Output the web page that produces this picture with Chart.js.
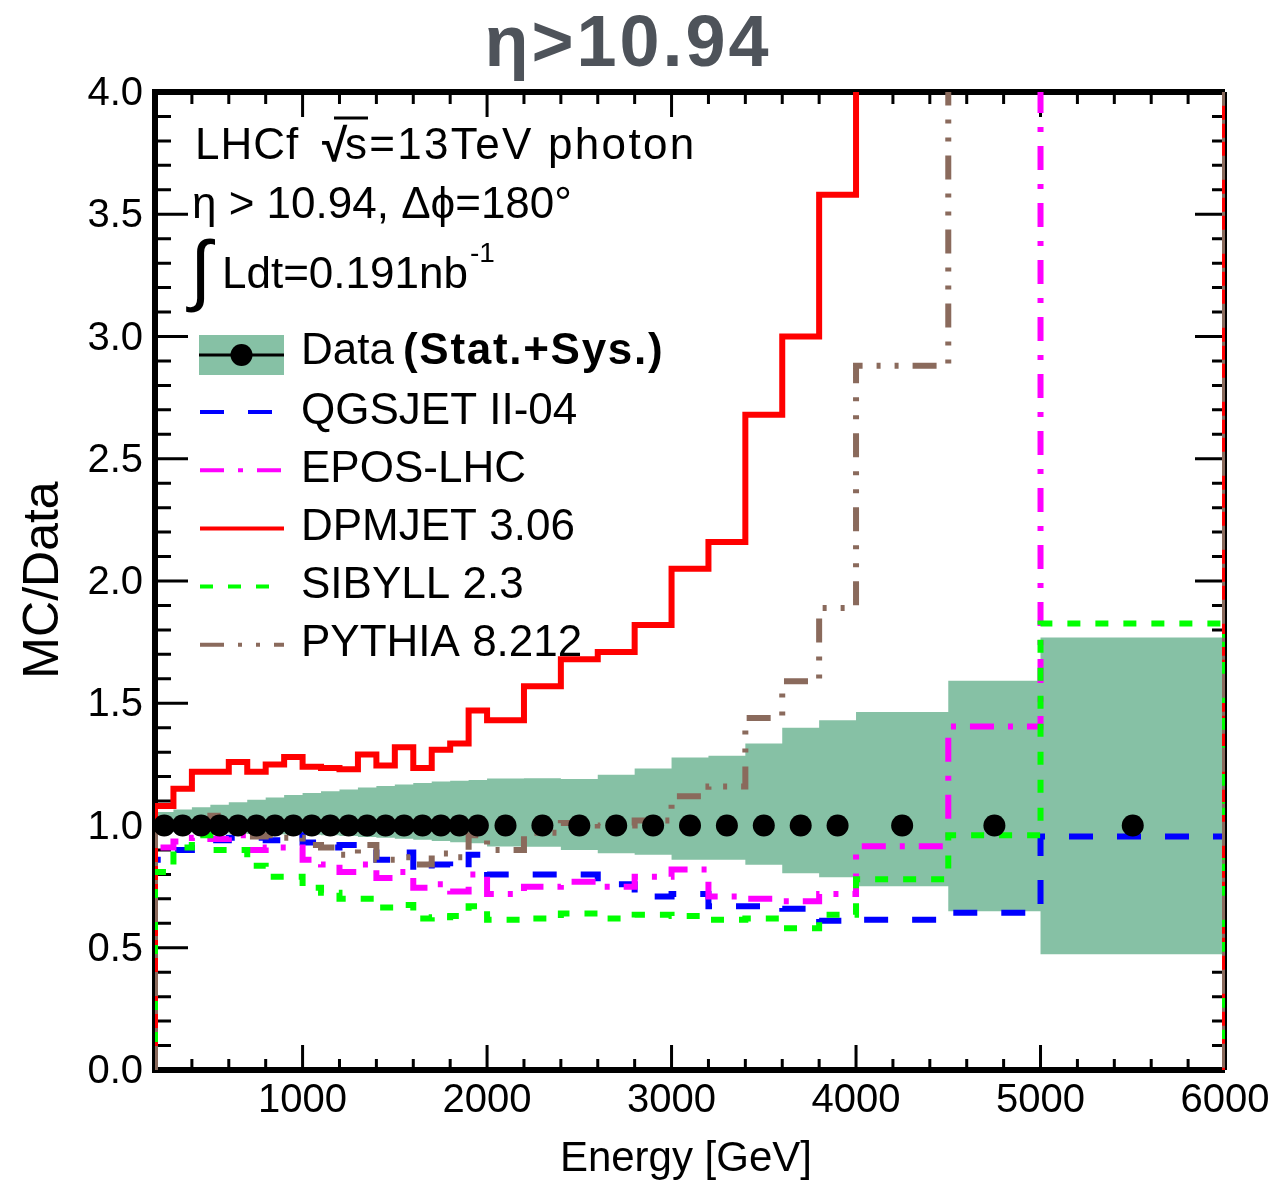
<!DOCTYPE html>
<html>
<head>
<meta charset="utf-8">
<title>MC/Data eta>10.94</title>
<script src="https://cdn.jsdelivr.net/npm/chart.js@4.4.0/dist/chart.umd.min.js"></script>
<style>
  body { margin: 0; background: #fff; }
</style>
</head>
<body>
<canvas id="ratio" width="1276" height="1180"></canvas>
<script>
// energy bins [GeV]
var binEdges = [200, 300, 400, 500, 600, 700, 800, 900, 1000, 1100, 1200, 1300, 1400, 1500, 1600, 1700, 1800, 1900, 2000,
                2200, 2400, 2600, 2800, 3000, 3200, 3400, 3600, 3800, 4000, 4500, 5000, 6000];

// data ratio (always 1) and its stat+sys band
var dataRatio = [1, 1, 1, 1, 1, 1, 1, 1, 1, 1, 1, 1, 1, 1, 1, 1, 1, 1, 1, 1, 1, 1, 1, 1, 1, 1, 1, 1, 1, 1, 1];
var bandHigh = [1.055, 1.065, 1.075, 1.085, 1.095, 1.105, 1.115, 1.125, 1.133, 1.14, 1.147, 1.155, 1.162, 1.168, 1.174, 1.18, 1.183, 1.186,
                1.192, 1.193, 1.19, 1.208, 1.233, 1.278, 1.285, 1.335, 1.40, 1.43, 1.464, 1.592, 1.769];
var bandLow = [0.975, 0.972, 0.97, 0.968, 0.966, 0.965, 0.964, 0.963, 0.962, 0.96, 0.957, 0.953, 0.95, 0.946, 0.942, 0.937, 0.932, 0.927,
               0.914, 0.913, 0.90, 0.887, 0.88, 0.86, 0.86, 0.839, 0.805, 0.788, 0.752, 0.649, 0.473];

// MC / Data for each model
var qgsjet = [0.86, 0.90, 0.92, 0.94, 0.95, 0.95, 0.94, 0.96, 0.93, 0.91, 0.92, 0.91, 0.86, 0.89, 0.81, 0.84, 0.82, 0.88,
              0.80, 0.80, 0.80, 0.76, 0.71, 0.72, 0.67, 0.67, 0.66, 0.61, 0.615, 0.643, 0.955];
var epos = [0.91, 0.935, 0.95, 0.945, 0.96, 0.90, 0.91, 0.91, 0.86, 0.84, 0.81, 0.84, 0.785, 0.81, 0.745, 0.76, 0.73, 0.80,
            0.72, 0.75, 0.77, 0.75, 0.79, 0.82, 0.71, 0.70, 0.69, 0.72, 0.915, 1.405, 8.0];
var dpmjet = [1.08, 1.15, 1.22, 1.22, 1.26, 1.22, 1.25, 1.28, 1.24, 1.235, 1.23, 1.29, 1.245, 1.32, 1.235, 1.31, 1.335, 1.47,
              1.43, 1.57, 1.68, 1.71, 1.82, 2.05, 2.16, 2.68, 3.00, 3.58, 5.2, 7.0, 9.0];
var sibyll = [0.81, 0.91, 0.96, 0.90, 0.90, 0.835, 0.79, 0.79, 0.745, 0.725, 0.70, 0.70, 0.665, 0.675, 0.62, 0.625, 0.63, 0.67,
              0.615, 0.62, 0.64, 0.62, 0.635, 0.63, 0.615, 0.62, 0.58, 0.635, 0.78, 0.96, 1.826];
var pythia = [0.99, 1.0, 1.0, 1.04, 1.0, 0.955, 0.96, 0.95, 0.92, 0.91, 0.88, 0.92, 0.86, 0.87, 0.84, 0.885, 0.87, 0.96,
              0.90, 0.97, 1.01, 1.0, 1.02, 1.12, 1.16, 1.44, 1.59, 1.89, 2.88, 6.0, 6.0];

// axis tick labels
var xTickLabels = [1000, 2000, 3000, 4000, 5000, 6000];
var yTickLabels = ["0.0", "0.5", "1.0", "1.5", "2.0", "2.5", "3.0", "3.5", "4.0"];

var bandColor = "rgb(134,193,165)";
var models = [
  { name: "QGSJET II-04", values: qgsjet, color: "#0000ff", dash: [24, 24] },
  { name: "EPOS-LHC", values: epos, color: "#ff00ff", dash: [24, 14, 5, 14] },
  { name: "DPMJET 3.06", values: dpmjet, color: "#ff0000", dash: [] },
  { name: "SIBYLL 2.3", values: sibyll, color: "#00ff00", dash: [13, 15] },
  { name: "PYTHIA 8.212", values: pythia, color: "#8a6a5c", dash: [24, 14, 4, 14, 4, 14] }
];

// histogram outline: up from 0 at the first edge, steps, down to 0 at the last edge
function histPoints(values){
  var pts = [{ x: binEdges[0], y: 0 }];
  for(var i = 0; i < values.length; i++){
    pts.push({ x: binEdges[i], y: values[i] });
    pts.push({ x: binEdges[i + 1], y: values[i] });
  }
  pts.push({ x: binEdges[binEdges.length - 1], y: 0 });
  return pts;
}
function stepPoints(values){
  var pts = [];
  for(var i = 0; i < values.length; i++){
    pts.push({ x: binEdges[i], y: values[i] });
    pts.push({ x: binEdges[i + 1], y: values[i] });
  }
  return pts;
}
function centerPoints(values){
  var pts = [];
  for(var i = 0; i < values.length; i++){
    pts.push({ x: (binEdges[i] + binEdges[i + 1]) / 2, y: values[i] });
  }
  return pts;
}

var datasets = [
  { data: stepPoints(bandLow), borderColor: "rgba(0,0,0,0)", borderWidth: 1, pointRadius: 0, fill: false, order: 20 },
  { data: stepPoints(bandHigh), borderColor: "rgba(0,0,0,0)", borderWidth: 1, pointRadius: 0, fill: "-1",
    backgroundColor: bandColor, order: 19 }
];
models.forEach(function(m, k){
  datasets.push({
    data: histPoints(m.values), borderColor: m.color, borderWidth: 6, borderDash: m.dash,
    borderCapStyle: "butt", borderJoinStyle: "miter", pointRadius: 0, fill: false, tension: 0,
    order: 10 - k
  });
});
datasets.push({
  data: centerPoints(dataRatio), showLine: false, pointRadius: 11, pointBackgroundColor: "#000",
  pointBorderWidth: 0, borderColor: "#000", order: 0
});

// inward ticks on all four sides, ROOT style
var ticksPlugin = {
  id: "ticks",
  beforeDatasetsDraw: function(chart){
    var ctx = chart.ctx, a = chart.chartArea, xs = chart.scales.x, ys = chart.scales.y;
    ctx.save();
    ctx.strokeStyle = "#000";
    ctx.lineWidth = 3;
    ctx.beginPath();
    for(var e = 400; e < 6000; e += 200){
      var px = xs.getPixelForValue(e);
      var big = (e % 1000 === 0);
      ctx.moveTo(px, a.bottom); ctx.lineTo(px, a.bottom - (big ? 25 : 11));
      ctx.moveTo(px, a.top); ctx.lineTo(px, a.top + (big ? 25 : 12));
    }
    for(var j = 1; j < 40; j++){
      var py = ys.getPixelForValue(j / 10);
      var major = (j % 5 === 0);
      ctx.moveTo(a.left, py); ctx.lineTo(a.left + (major ? 33 : 16), py);
      ctx.moveTo(a.right, py); ctx.lineTo(a.right - (major ? 30 : 13), py);
    }
    ctx.stroke();
    ctx.restore();
  },
  afterDatasetDraw: function(chart, args){
    if(args.index !== 1) return; // frame goes right after the band
    var ctx = chart.ctx, a = chart.chartArea;
    ctx.save();
    ctx.strokeStyle = "#000";
    ctx.lineWidth = 6;
    ctx.beginPath();
    ctx.moveTo(a.right, a.top); ctx.lineTo(a.left, a.top); ctx.lineTo(a.left, a.bottom); ctx.lineTo(a.right, a.bottom);
    ctx.stroke();
    ctx.lineWidth = 4;
    ctx.beginPath();
    ctx.moveTo(a.right, a.top); ctx.lineTo(a.right, a.bottom);
    ctx.stroke();
    ctx.restore();
  }
};

var FONT = "'Liberation Sans', Arial, Helvetica, sans-serif";

// labels, titles and the in-plot legend
var textPlugin = {
  id: "texts",
  afterDatasetsDraw: function(chart){
    var ctx = chart.ctx, a = chart.chartArea, xs = chart.scales.x, ys = chart.scales.y;
    ctx.save();
    ctx.fillStyle = "#000";

    // tick labels
    ctx.font = "40px " + FONT;
    ctx.textAlign = "center";
    ctx.textBaseline = "alphabetic";
    xTickLabels.forEach(function(t){
      ctx.fillText(String(t), xs.getPixelForValue(t), 1112);
    });
    ctx.textAlign = "right";
    ctx.textBaseline = "middle";
    yTickLabels.forEach(function(t){
      ctx.fillText(t, 143, ys.getPixelForValue(parseFloat(t)) + 2);
    });

    // axis titles
    ctx.font = "42px " + FONT;
    ctx.textAlign = "right";
    ctx.textBaseline = "alphabetic";
    ctx.fillText("Energy [GeV]", 812, 1171);
    ctx.save();
    ctx.translate(58, 580);
    ctx.rotate(-Math.PI / 2);
    ctx.font = "50px " + FONT;
    ctx.textAlign = "center";
    ctx.fillText("MC/Data", 0, 0);
    ctx.restore();

    // title
    ctx.font = "bold 72px " + FONT;
    ctx.fillStyle = "#4e535a";
    ctx.textAlign = "center";
    ctx.letterSpacing = "3px";
    ctx.fillText("\u03b7>10.94", 628, 66);
    ctx.letterSpacing = "0px";

    // header lines
    ctx.fillStyle = "#000";
    ctx.strokeStyle = "#000";
    ctx.textAlign = "left";
    ctx.font = "44px " + FONT;
    ctx.letterSpacing = "1px";
    ctx.fillText("LHCf", 195, 159);
    ctx.font = "bold 46px " + FONT;
    ctx.fillText("\u221a", 322, 161);
    ctx.font = "44px " + FONT;
    ctx.letterSpacing = "2.3px";
    ctx.fillText("s=13TeV photon", 345, 159);
    ctx.letterSpacing = "0px";
    ctx.lineWidth = 3;
    ctx.beginPath(); ctx.moveTo(334, 118); ctx.lineTo(368, 118); ctx.stroke();

    ctx.fillText("\u03b7 > 10.94, \u0394\u03d5=180\u00b0", 192, 218);

    ctx.font = "78px " + FONT;
    ctx.fillText("\u222b", 190, 296);
    ctx.font = "44px " + FONT;
    ctx.fillText("Ldt=0.191nb", 222, 288);
    var w = ctx.measureText("Ldt=0.191nb").width;
    ctx.font = "28px " + FONT;
    ctx.fillText("-1", 222 + w + 2, 262);

    // legend: data entry
    ctx.fillStyle = bandColor;
    ctx.fillRect(199, 335, 85, 40);
    ctx.strokeStyle = "#000";
    ctx.lineWidth = 3;
    ctx.setLineDash([]);
    ctx.beginPath(); ctx.moveTo(199, 355); ctx.lineTo(284, 355); ctx.stroke();
    ctx.fillStyle = "#000";
    ctx.beginPath(); ctx.arc(241.5, 355, 11, 0, 2 * Math.PI); ctx.fill();
    ctx.font = "44px " + FONT;
    ctx.fillText("Data", 301, 364);
    ctx.font = "bold 44px " + FONT;
    ctx.letterSpacing = "1.7px";
    ctx.fillText("(Stat.+Sys.)", 403, 364);
    ctx.letterSpacing = "0px";

    // legend: models
    ctx.font = "44px " + FONT;
    models.forEach(function(m, k){
      var base = 423.5 + k * 58.2;
      ctx.strokeStyle = m.color;
      ctx.lineWidth = 4;
      ctx.setLineDash(m.dash);
      ctx.beginPath(); ctx.moveTo(200, base - 11.5); ctx.lineTo(284, base - 11.5); ctx.stroke();
      ctx.setLineDash([]);
      ctx.fillStyle = "#000";
      ctx.fillText(m.name, 301, base);
    });
    ctx.restore();
  }
};

var chart = new Chart(document.getElementById("ratio"), {
  type: "line",
  data: { datasets: datasets },
  options: {
    responsive: false,
    animation: false,
    devicePixelRatio: 1,
    layout: { padding: { left: 155, right: 51, top: 92, bottom: 110 } },
    plugins: { legend: { display: false }, tooltip: { enabled: false } },
    scales: {
      x: { type: "linear", min: 200, max: 6000, display: false },
      y: { type: "linear", min: 0, max: 4, display: false }
    }
  },
  plugins: [ticksPlugin, textPlugin]
});
</script>
</body>
</html>
